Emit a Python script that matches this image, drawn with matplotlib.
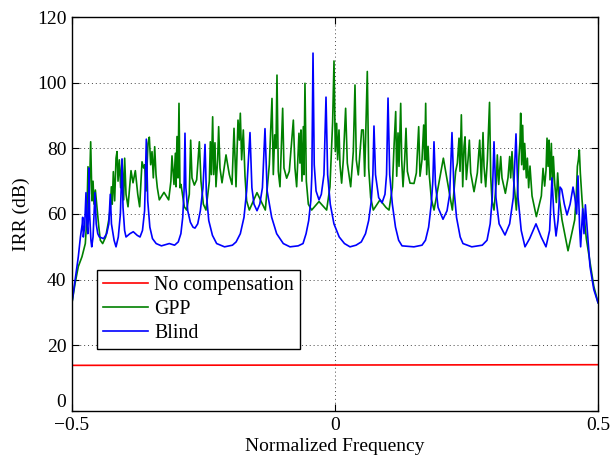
import matplotlib
matplotlib.use("Agg")
import matplotlib.pyplot as plt

# ---- data ----
red_x = [-0.5, 0.0, 0.5]
red_y = [13.9, 14.0, 14.1]

blue_x = [-0.500, -0.494, -0.488, -0.484, -0.4805, -0.4797, -0.4785, -0.4760, -0.4734, -0.4715,
          -0.4700, -0.4688, -0.4677, -0.4665, -0.4640, -0.4625, -0.4600, -0.4563, -0.4540, -0.4510,
          -0.4480, -0.4400, -0.4340, -0.4300, -0.4272, -0.4250, -0.4200, -0.4163, -0.4120, -0.4080,
          -0.4049, -0.4030, -0.4000, -0.3973, -0.3900, -0.3835, -0.3760, -0.3707, -0.3660, -0.3620,
          -0.3587, -0.3560, -0.3520, -0.3470, -0.3400, -0.3300, -0.3150, -0.3050, -0.2980, -0.2930,
          -0.2895, -0.2870, -0.2852, -0.2835, -0.2800, -0.2750, -0.2700, -0.2662, -0.2610, -0.2560,
          -0.2510, -0.2471, -0.2445, -0.2400, -0.2330, -0.2250, -0.2100, -0.1950, -0.1880, -0.1800,
          -0.1730, -0.1680, -0.1616, -0.1580, -0.1540, -0.1483, -0.1430, -0.1380, -0.1331, -0.1290,
          -0.1204, -0.1109, -0.0983, -0.0856, -0.0700, -0.0608, -0.0550, -0.0500, -0.0460, -0.0440,
          -0.0418, -0.0395, -0.0360, -0.0304, -0.0260, -0.0210, -0.0171, -0.0140, -0.0090, -0.0020,
          0.0080, 0.0180, 0.0285, 0.0400, 0.0500, 0.0580, 0.0640, 0.0690, 0.0720, 0.0741,
          0.0770, 0.0830, 0.0894, 0.0950, 0.0980, 0.1008, 0.1040, 0.1090, 0.1150, 0.1210,
          0.1274, 0.1500, 0.1654, 0.1720, 0.1780, 0.1830, 0.1860, 0.1882, 0.1910, 0.1960,
          0.2053, 0.2130, 0.2180, 0.2224, 0.2260, 0.2310, 0.2380, 0.2433, 0.2600, 0.2800,
          0.2890, 0.2950, 0.2990, 0.3023, 0.3060, 0.3120, 0.3232, 0.3320, 0.3390, 0.3441,
          0.3480, 0.3540, 0.3612, 0.3700, 0.3821, 0.3920, 0.4011, 0.4080, 0.4125, 0.4160,
          0.4202, 0.4240, 0.4278, 0.4310, 0.4360, 0.4411, 0.4470, 0.4525, 0.4560, 0.4595,
          0.4620, 0.4650, 0.4670, 0.4709, 0.4734, 0.4760, 0.4797, 0.4848, 0.4920, 0.5000]
blue_y = [33, 40, 47, 53, 57, 59, 53, 56, 66.5, 57,
          54, 60, 74, 60, 52, 50, 53, 66.5, 57, 54,
          53, 52.5, 54, 57, 66, 57, 52, 50, 53, 60,
          76.8, 62, 55, 53, 54, 54.6, 53.5, 53, 55, 61,
          82.8, 64, 56, 52.5, 51, 50.3, 51, 50.5, 51.5, 54,
          59, 67, 84.6, 68, 61, 57.5, 56, 55.7, 57, 61,
          68, 81.2, 66, 58, 53.5, 51, 50, 50.5, 51.5, 54,
          59, 67, 84.8, 68, 63, 61, 63, 68, 86, 67,
          59, 54, 51, 50, 50.3, 51, 54, 58, 64, 72,
          109, 75, 67, 64.3, 66, 72, 95.6, 72, 63, 57,
          53, 51, 50, 50.5, 51.5, 54, 58, 64, 72, 86.8,
          72, 65, 63.4, 66, 72, 95.3, 72, 63, 56, 52,
          50.3, 50, 50.5, 52, 56, 63, 70, 82, 69, 62,
          58.4, 61, 66, 84.8, 68, 59, 53, 51, 50, 50.5,
          52, 57, 65, 82, 65, 57, 53.6, 57, 65, 84.4,
          65, 55, 50, 52.5, 57, 53, 50, 55, 71, 60,
          53.3, 58, 68.2, 67.5, 63, 59.7, 63, 68.2, 65, 60,
          71.6, 56, 50, 61.6, 54, 62.8, 55, 44, 37, 33]

green_x = [-0.500, -0.494, -0.488, -0.481, -0.4747, -0.4720, -0.4696, -0.4670, -0.4645, -0.4620,
           -0.4600, -0.4582, -0.4556, -0.4525, -0.4490, -0.4461, -0.4417, -0.4360, -0.4303, -0.4270,
           -0.4252, -0.4235, -0.4214, -0.4189, -0.4163, -0.4144, -0.4125, -0.4100, -0.4075, -0.4049,
           -0.4018, -0.3999, -0.3973, -0.3935, -0.3878, -0.3840, -0.3796, -0.3750, -0.3714, -0.3669,
           -0.3638, -0.3618, -0.3593, -0.3555, -0.3530, -0.3504, -0.3479, -0.3454, -0.3428, -0.3403,
           -0.3378, -0.3340, -0.3251, -0.3162, -0.3120, -0.3099, -0.3061, -0.3035, -0.3023, -0.3004,
           -0.2985, -0.2966, -0.2947, -0.2928, -0.2865, -0.2820, -0.2770, -0.2744, -0.2719, -0.2674,
           -0.2630, -0.2579, -0.2548, -0.2503, -0.2453, -0.2389, -0.2370, -0.2351, -0.2326, -0.2307,
           -0.2282, -0.2263, -0.2231, -0.2212, -0.2187, -0.2148, -0.2072, -0.2009, -0.1958, -0.1920,
           -0.1882, -0.1844, -0.1819, -0.1800, -0.1775, -0.1743, -0.1711, -0.1680, -0.1629, -0.1483,
           -0.1325, -0.1249, -0.1198, -0.1173, -0.1147, -0.1122, -0.1103, -0.1078, -0.1046, -0.0995,
           -0.0970, -0.0919, -0.0869, -0.0792, -0.0761, -0.0729, -0.0685, -0.0666, -0.0647, -0.0628,
           -0.0602, -0.0590, -0.0571, -0.0545, -0.0507, -0.0444, -0.0304, -0.0159, -0.0096, -0.0045,
           -0.0019, 0.0006, 0.0031, 0.0050, 0.0076, 0.0095, 0.0126, 0.0158, 0.0202, 0.0234,
           0.0298, 0.0348, 0.0380, 0.0405, 0.0443, 0.0507, 0.0538, 0.0564, 0.0614, 0.0640,
           0.0678, 0.0728, 0.0855, 0.0969, 0.1027, 0.1090, 0.1122, 0.1154, 0.1173, 0.1198,
           0.1217, 0.1249, 0.1268, 0.1293, 0.1325, 0.1350, 0.1376, 0.1426, 0.1502, 0.1547,
           0.1591, 0.1616, 0.1654, 0.1686, 0.1705, 0.1724, 0.1743, 0.1769, 0.1794, 0.1832,
           0.1883, 0.2060, 0.2231, 0.2294, 0.2326, 0.2358, 0.2377, 0.2402, 0.2428, 0.2453,
           0.2472, 0.2497, 0.2529, 0.2554, 0.2580, 0.2643, 0.2706, 0.2751, 0.2782, 0.2814,
           0.2833, 0.2865, 0.2897, 0.2938, 0.2960, 0.2985, 0.3023, 0.3067, 0.3086, 0.3112,
           0.3150, 0.3175, 0.3239, 0.3289, 0.3321, 0.3340, 0.3365, 0.3391, 0.3416, 0.3448,
           0.3479, 0.3498, 0.3517, 0.3530, 0.3549, 0.3568, 0.3587, 0.3606, 0.3638, 0.3657,
           0.3682, 0.3707, 0.3746, 0.3828, 0.3923, 0.3955, 0.3986, 0.4012, 0.4031, 0.4050,
           0.4069, 0.4088, 0.4113, 0.4132, 0.4151, 0.4176, 0.4208, 0.4233, 0.4259, 0.4316,
           0.4430, 0.4557, 0.4589, 0.4608, 0.4626, 0.4645, 0.4664, 0.4696, 0.4715, 0.4747,
           0.4778, 0.4842, 0.4920, 0.5000]
green_y = [33, 39, 44, 47, 51, 58, 74.4, 66, 82, 64,
           70, 63, 67.3, 62, 56, 52, 51, 53, 58, 62,
           68.3, 63, 72.9, 64, 77, 79, 70, 76.5, 68, 76.5,
           64.3, 77, 66, 62.2, 73.2, 69.5, 73.2, 66, 62.2, 75.9,
           74, 75, 67, 81.5, 83.4, 75, 79, 71, 80.5, 72,
           68, 64.3, 66.6, 64.3, 70, 77.7, 69, 78.5, 68.3, 83.6,
           71, 93.7, 68, 69, 62.2, 61.2, 66, 82.5, 71, 68.8,
           70.4, 82, 70, 63, 61.2, 70, 82, 72, 89.6, 72,
           81.7, 68.3, 76.5, 86.6, 74, 69.5, 78, 72, 69, 86.1,
           68.3, 88.6, 82.5, 90.7, 76.5, 85.6, 71.5, 64, 61.2, 66.5,
           61.2, 75, 95.2, 72, 84.1, 80, 102.3, 73, 68.3, 92.2,
           74, 70.9, 73, 88.6, 74, 68.3, 84.6, 75.5, 85.6, 70,
           86.6, 72, 99.8, 70, 63, 61.2, 63.8, 61.2, 68.3, 88,
           106.6, 79, 87.6, 76.5, 85.6, 75, 69.4, 76.5, 92.2, 75.5,
           68.3, 79, 99.3, 76.5, 71.9, 85.6, 85.6, 71.5, 103.4, 74,
           65, 61.2, 64.3, 62, 61.2, 68, 80.5, 91.2, 71.5, 84.7,
           74.5, 93.7, 76.5, 68.3, 76.5, 86.1, 73, 69.4, 69.3, 72.5,
           86.6, 71.5, 76.5, 87.1, 76.5, 93.7, 72, 80.6, 71.5, 64.5,
           61.2, 77, 61.2, 73, 75.5, 83.1, 73, 90.2, 68.3, 80.6,
           83.5, 70.5, 76.5, 82.5, 72.5, 66.8, 72.5, 82.5, 69.5, 84.8,
           74.5, 68.3, 76.5, 94, 71.5, 64, 61.2, 70, 78, 69,
           77.5, 71, 66.3, 71, 77.5, 71, 79, 71, 67, 61.2,
           70, 77.5, 82, 90.7, 75, 87, 73.5, 81.5, 71, 77,
           68, 74.6, 65.5, 59.2, 65.5, 73.9, 68.5, 73.4, 83.1, 74.5,
           82.5, 70.4, 81.5, 68.5, 77.5, 69.5, 63.5, 72.5, 65.5, 58.2,
           48.8, 58.2, 66.4, 74.5, 76.4, 79.5, 72.5, 64.5, 60.5, 57.5,
           52.5, 46, 38, 33]

labels = ["No compensation", "GPP", "Blind"]
x_ticks = [-0.5, 0, 0.5]
x_ticklabels = ["\u22120.5", "0", "0.5"]
y_ticks = [0, 20, 40, 60, 80, 100, 120]

plt.rcParams['font.family'] = ['Liberation Serif', 'DejaVu Serif']
plt.rcParams['font.size'] = 14

fig = plt.figure(figsize=(6.11, 4.57), dpi=100)
ax = fig.add_axes([72/611, 46/457, 526/611, 394/457])

ax.plot(red_x, red_y, color='#ff0000', lw=1.2, label=labels[0])
ax.plot(green_x, green_y, color='#008000', lw=1.2, label=labels[1])
ax.plot(blue_x, blue_y, color='#0000ff', lw=1.2, label=labels[2])

ax.set_xlim(-0.5, 0.5)
ax.set_ylim(0, 120)
ax.set_xticks(x_ticks)
ax.set_xticklabels(x_ticklabels)
ax.set_yticks(y_ticks)
ax.grid(True, linestyle=(0, (1, 3)), color='#444444', linewidth=0.7)
ax.tick_params(direction='in', length=5, width=0.8, top=True, right=True, labelsize=14)
ax.tick_params(axis='x', pad=4)
ax.tick_params(axis='y', pad=4)
for s in ax.spines.values():
    s.set_linewidth(1.0)
ax.set_xlabel("Normalized Frequency", labelpad=3)
ax.set_ylabel("IRR (dB)", labelpad=5)

# lift the bottom y tick label a little so it clears the x tick label
ax.get_yticklabels()[0].set_va('bottom')

leg = ax.legend(loc='lower left', bbox_to_anchor=(0.047, 0.157), frameon=True,
                fancybox=False, edgecolor='black', framealpha=1, handlelength=2.3,
                handletextpad=0.3, labelspacing=0.25, borderpad=0.3, borderaxespad=0,
                fontsize=14.3)
leg.get_frame().set_linewidth(1.0)

fig.savefig("out.png", dpi=100)
